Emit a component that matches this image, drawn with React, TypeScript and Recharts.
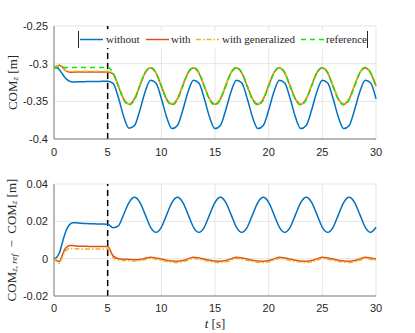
import { LineChart, Line, XAxis, YAxis, CartesianGrid, ReferenceLine, Legend } from 'recharts';

// time samples [s]
const time = [
  0, 0.25, 0.5, 0.75, 1, 1.25, 1.5, 1.75, 2, 2.5, 3, 3.5, 4, 4.5,
  5, 5.5, 6, 6.5, 7, 7.5, 8, 8.5, 9, 9.5, 10, 10.5, 11, 11.5, 12, 12.5,
  13, 13.5, 14, 14.5, 15, 15.5, 16, 16.5, 17, 17.5, 18, 18.5, 19, 19.5, 20, 20.5,
  21, 21.5, 22, 22.5, 23, 23.5, 24, 24.5, 25, 25.5, 26, 26.5, 27, 27.5, 28, 28.5,
  29, 29.5, 30,
];

// COM_z [m]
const comWithout = [
  -0.305, -0.3055, -0.308, -0.313, -0.318, -0.3215, -0.3235, -0.3242, -0.3243, -0.324, -0.3238, -0.3236, -0.3236, -0.3235,
  -0.3235, -0.3262, -0.345, -0.3705, -0.3858, -0.3822, -0.3618, -0.3368,
  -0.322, -0.3258, -0.3462, -0.3712, -0.3862, -0.382, -0.3616, -0.3368,
  -0.322, -0.3258, -0.3462, -0.3712, -0.3862, -0.382, -0.3616, -0.3368,
  -0.322, -0.3258, -0.3462, -0.3712, -0.3862, -0.382, -0.3616, -0.3368,
  -0.322, -0.3258, -0.3462, -0.3712, -0.3862, -0.382, -0.3616, -0.3368,
  -0.322, -0.3258, -0.3462, -0.3712, -0.3862, -0.382, -0.3616, -0.3368,
  -0.322, -0.3258, -0.3465,
];
const comWith = [
  -0.305, -0.3035, -0.302, -0.304, -0.308, -0.3105, -0.3115, -0.3115, -0.3112, -0.311, -0.311, -0.311, -0.311, -0.311,
  -0.311, -0.3135, -0.33, -0.3472, -0.3538, -0.3466, -0.329, -0.3119,
  -0.3058, -0.3124, -0.3298, -0.3472, -0.3538, -0.3466, -0.329, -0.3119,
  -0.3058, -0.3124, -0.3298, -0.3472, -0.3538, -0.3466, -0.329, -0.3119,
  -0.3058, -0.3124, -0.3298, -0.3472, -0.3538, -0.3466, -0.329, -0.3119,
  -0.3058, -0.3124, -0.3298, -0.3472, -0.3538, -0.3466, -0.329, -0.3119,
  -0.3058, -0.3124, -0.3298, -0.3472, -0.3538, -0.3466, -0.329, -0.3119,
  -0.3058, -0.3124, -0.3298,
];
const comWithGen = [
  -0.305, -0.303, -0.3025, -0.305, -0.3085, -0.31, -0.3105, -0.3104, -0.3102, -0.3102, -0.3102, -0.3102, -0.3102, -0.3102,
  -0.3102, -0.3125, -0.3292, -0.3465, -0.3531, -0.3459, -0.3283, -0.3112,
  -0.3051, -0.3117, -0.3291, -0.3465, -0.3531, -0.3459, -0.3283, -0.3112,
  -0.3051, -0.3117, -0.3291, -0.3465, -0.3531, -0.3459, -0.3283, -0.3112,
  -0.3051, -0.3117, -0.3291, -0.3465, -0.3531, -0.3459, -0.3283, -0.3112,
  -0.3051, -0.3117, -0.3291, -0.3465, -0.3531, -0.3459, -0.3283, -0.3112,
  -0.3051, -0.3117, -0.3291, -0.3465, -0.3531, -0.3459, -0.3283, -0.3112,
  -0.3051, -0.3117, -0.3291,
];
const comRef = [
  -0.305, -0.305, -0.305, -0.305, -0.305, -0.305, -0.305, -0.305, -0.305, -0.305, -0.305, -0.305, -0.305, -0.305,
  -0.305, -0.312, -0.33, -0.348, -0.355, -0.348, -0.33, -0.312,
  -0.305, -0.312, -0.33, -0.348, -0.355, -0.348, -0.33, -0.312,
  -0.305, -0.312, -0.33, -0.348, -0.355, -0.348, -0.33, -0.312,
  -0.305, -0.312, -0.33, -0.348, -0.355, -0.348, -0.33, -0.312,
  -0.305, -0.312, -0.33, -0.348, -0.355, -0.348, -0.33, -0.312,
  -0.305, -0.312, -0.33, -0.348, -0.355, -0.348, -0.33, -0.312,
  -0.305, -0.312, -0.33,
];

// COM_z,ref - COM_z [m]
const errWithout = [
  0, 0.0008, 0.003, 0.008, 0.013, 0.0165, 0.0185, 0.0192, 0.0193, 0.019, 0.0188, 0.0187, 0.0186, 0.0186,
  0.0185, 0.0166, 0.0176, 0.0238, 0.0302, 0.0329, 0.0302, 0.0236,
  0.0168, 0.0141, 0.0168, 0.0236, 0.0302, 0.0329, 0.0302, 0.0236,
  0.0168, 0.0141, 0.0168, 0.0236, 0.0302, 0.0329, 0.0302, 0.0236,
  0.0168, 0.0141, 0.0168, 0.0236, 0.0302, 0.0329, 0.0302, 0.0236,
  0.0168, 0.0141, 0.0168, 0.0236, 0.0302, 0.0329, 0.0302, 0.0236,
  0.0168, 0.0141, 0.0168, 0.0236, 0.0302, 0.0329, 0.0302, 0.0236,
  0.0168, 0.0141, 0.0168,
];
const errWith = [
  0.0005, -0.001, -0.0015, 0.0015, 0.005, 0.0065, 0.0071, 0.007, 0.0068, 0.0066, 0.0066, 0.0065, 0.0065, 0.0065,
  0.0065, 0.0015, 0, -0.0003, -0.0004, -0.0006, -0.0004, 0.0002,
  0.0008, 0.0004, -0.0002, -0.0008, -0.0012, -0.0014, -0.001, -0.0001,
  0.0008, 0.0004, -0.0002, -0.0008, -0.0012, -0.0014, -0.001, -0.0001,
  0.0008, 0.0004, -0.0002, -0.0008, -0.0012, -0.0014, -0.001, -0.0001,
  0.0008, 0.0004, -0.0002, -0.0008, -0.0012, -0.0014, -0.001, -0.0001,
  0.0008, 0.0004, -0.0002, -0.0008, -0.0012, -0.0014, -0.001, -0.0001,
  0.0008, 0.0004, -0.0002,
];
const errWithGen = [
  0.0005, -0.0015, -0.0025, 0.0005, 0.0035, 0.005, 0.0055, 0.0055, 0.0053, 0.0052, 0.0052, 0.0052, 0.0052, 0.0052,
  0.0052, 0.0005, -0.0008, -0.001, -0.0011, -0.0013, -0.0011, -0.0005,
  0.0001, -0.0003, -0.0009, -0.0015, -0.0019, -0.0021, -0.0017, -0.0008,
  0.0001, -0.0003, -0.0009, -0.0015, -0.0019, -0.0021, -0.0017, -0.0008,
  0.0001, -0.0003, -0.0009, -0.0015, -0.0019, -0.0021, -0.0017, -0.0008,
  0.0001, -0.0003, -0.0009, -0.0015, -0.0019, -0.0021, -0.0017, -0.0008,
  0.0001, -0.0003, -0.0009, -0.0015, -0.0019, -0.0021, -0.0017, -0.0008,
  0.0001, -0.0003, -0.0009,
];

const xTicks = [0, 5, 10, 15, 20, 25, 30];
const yTicksTop = [-0.4, -0.35, -0.3, -0.25];
const yTickLabelsTop = ['-0.4', '-0.35', '-0.3', '-0.25'];
const yTicksBottom = [-0.02, 0, 0.02, 0.04];
const yTickLabelsBottom = ['-0.02', '0', '0.02', '0.04'];
const seriesNames = ['without', 'with', 'with generalized', 'reference'];
const switchTime = 5;

const BLUE = '#0072BD';
const ORANGE = '#D95319';
const YELLOW = '#EDB120';
const GREEN = '#00ee00';
const TEXT = '#262626';
const SANS = '"Liberation Sans", Arial, sans-serif';
const SERIF = '"Liberation Serif", "DejaVu Serif", serif';

const topData = time.map((t, i) => ({
  t,
  without: comWithout[i],
  with: comWith[i],
  withGen: comWithGen[i],
  reference: comRef[i],
}));

const bottomData = time.map((t, i) => ({
  t,
  without: errWithout[i],
  with: errWith[i],
  withGen: errWithGen[i],
}));

const tickStyle = { fill: TEXT, fontSize: 11, fontFamily: SANS };

// legend sample styles + where each entry sits inside the box
const legendStyles = [
  { color: BLUE, dash: undefined, lineX: 1, textX: 27 },
  { color: ORANGE, dash: undefined, lineX: 67, textX: 92 },
  { color: YELLOW, dash: '5 2 1.5 2', lineX: 117, textX: 143 },
  { color: GREEN, dash: '5 4', lineX: 222, textX: 247 },
];

const renderLegend = () => (
  <div
    style={{
      position: 'relative',
      width: 290,
      height: 17,
      boxSizing: 'border-box',
      background: '#fff',
      borderLeft: `1px solid ${TEXT}`,
      borderRight: `1px solid ${TEXT}`,
      fontFamily: SERIF,
      fontSize: 11,
      color: TEXT,
    }}
  >
    {seriesNames.map((name, i) => {
      const s = legendStyles[i];
      return (
        <div key={name}>
          <svg width={23} height={17} style={{ position: 'absolute', left: s.lineX, top: 0 }}>
            <line x1={0} x2={23} y1={8.5} y2={8.5} stroke={s.color} strokeWidth={1.5} strokeDasharray={s.dash} />
          </svg>
          <span style={{ position: 'absolute', left: s.textX, top: 1, lineHeight: '15px', whiteSpace: 'nowrap', fontFamily: SERIF }}>{name}</span>
        </div>
      );
    })}
  </div>
);

const TopYLabel = (props: any) => {
  const vb = props.viewBox;
  const cy = vb.y + vb.height / 2;
  return (
    <text x={12} y={cy} transform={`rotate(-90, 12, ${cy})`} textAnchor="middle" dominantBaseline="central"
      fontFamily={SERIF} fontSize={13} fill={TEXT}>
      COM<tspan fontSize={9} fontStyle="italic" dy={3}>z</tspan><tspan dy={-3}> [m]</tspan>
    </text>
  );
};

const BottomYLabel = (props: any) => {
  const vb = props.viewBox;
  const cy = vb.y + vb.height / 2;
  return (
    <text x={11} y={cy} transform={`rotate(-90, 11, ${cy})`} textAnchor="middle" dominantBaseline="central"
      fontFamily={SERIF} fontSize={13} fill={TEXT}>
      COM<tspan fontSize={9} fontStyle="italic" dy={3}>z, ref</tspan><tspan dy={-3}>{'\u2002−\u2002'}COM</tspan>
      <tspan fontSize={9} fontStyle="italic" dy={3}>z</tspan><tspan dy={-3}> [m]</tspan>
    </text>
  );
};

const TimeLabel = (props: any) => {
  const vb = props.viewBox;
  return (
    <text x={vb.x + vb.width / 2} y={163} textAnchor="middle" dominantBaseline="central"
      fontFamily={SERIF} fontSize={13} fill={TEXT}>
      <tspan fontStyle="italic">t</tspan> [s]
    </text>
  );
};

export default function App() {
  return (
    <div style={{ position: 'absolute', left: 0, top: 0, width: 415, height: 333, background: '#fff' }}>
      <div style={{ position: 'absolute', left: 0, top: 0 }}>
        <LineChart width={415} height={160} data={topData} margin={{ top: 26, right: 39, bottom: 0, left: 0 }}>
          <CartesianGrid stroke="#e5e5e5" />
          <XAxis dataKey="t" type="number" domain={[0, 30]} ticks={xTicks} height={21}
            stroke="#808080" tickLine={false} tickSize={0} tickMargin={9} tick={tickStyle} />
          <YAxis type="number" domain={[-0.4, -0.25]} ticks={yTicksTop} width={54} allowDataOverflow
            stroke="#808080" tickLine={false} tickSize={0} tickMargin={6} tick={tickStyle}
            tickFormatter={(v: number) => yTickLabelsTop[yTicksTop.indexOf(v)] ?? String(v)}
            label={TopYLabel} />
          <ReferenceLine x={switchTime} stroke="#000" strokeWidth={1.5} strokeDasharray="6 4" />
          <Line type="monotone" dataKey="without" stroke={BLUE} strokeWidth={1.5} dot={false} isAnimationActive={false} />
          <Line type="monotone" dataKey="with" stroke={ORANGE} strokeWidth={1.5} dot={false} isAnimationActive={false} />
          <Line type="monotone" dataKey="withGen" stroke={YELLOW} strokeWidth={1.5} strokeDasharray="5 2 1.5 2" dot={false} isAnimationActive={false} />
          <Line type="monotone" dataKey="reference" stroke={GREEN} strokeWidth={1.5} strokeDasharray="5 4" dot={false} isAnimationActive={false} />
          <Legend layout="horizontal" verticalAlign="middle" align="center" content={renderLegend}
            wrapperStyle={{ left: 78, top: 31, width: 290, height: 17 }} />
        </LineChart>
      </div>
      <div style={{ position: 'absolute', left: 0, top: 160 }}>
        <LineChart width={415} height={173} data={bottomData} margin={{ top: 24, right: 39, bottom: 0, left: 0 }}>
          <CartesianGrid stroke="#e5e5e5" />
          <XAxis dataKey="t" type="number" domain={[0, 30]} ticks={xTicks} height={37}
            stroke="#808080" tickLine={false} tickSize={0} tickMargin={8} tick={tickStyle}
            label={TimeLabel} />
          <YAxis type="number" domain={[-0.02, 0.04]} ticks={yTicksBottom} width={54} allowDataOverflow
            stroke="#808080" tickLine={false} tickSize={0} tickMargin={6} tick={tickStyle}
            tickFormatter={(v: number) => yTickLabelsBottom[yTicksBottom.indexOf(v)] ?? String(v)}
            label={BottomYLabel} />
          <ReferenceLine x={switchTime} stroke="#000" strokeWidth={1.5} strokeDasharray="6 4" />
          <Line type="monotone" dataKey="without" stroke={BLUE} strokeWidth={1.5} dot={false} isAnimationActive={false} />
          <Line type="monotone" dataKey="with" stroke={ORANGE} strokeWidth={1.5} dot={false} isAnimationActive={false} />
          <Line type="monotone" dataKey="withGen" stroke={YELLOW} strokeWidth={1.5} strokeDasharray="5 2 1.5 2" dot={false} isAnimationActive={false} />
        </LineChart>
      </div>
    </div>
  );
}
